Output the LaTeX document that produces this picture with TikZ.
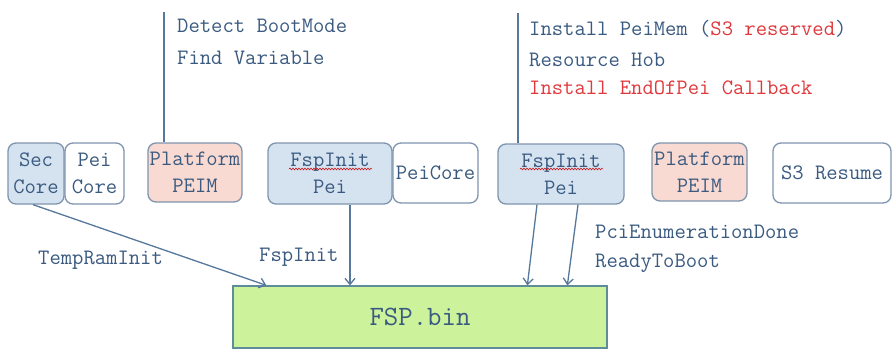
\documentclass[tikz,border=0pt]{standalone}
\usepackage{fontspec}
\usetikzlibrary{arrows.meta,decorations.pathmorphing}
\definecolor{txt}{HTML}{3A5A80}
\definecolor{redtxt}{HTML}{E0383C}
\definecolor{bluefill}{HTML}{D5E3F1}
\definecolor{pinkfill}{HTML}{F9DAD2}
\definecolor{greenfill}{HTML}{CCF39C}
\definecolor{bord}{HTML}{7F95AE}
\definecolor{greenbord}{HTML}{5E8C98}
\definecolor{linecol}{HTML}{56789C}
\newcommand\monofont{\ttfamily\fontsize{22}{27}\selectfont}
\tikzset{
  modbox/.style={draw=bord, line width=1.3pt, rounded corners=8pt, inner sep=0pt,
    align=center, text=txt, font=\monofont},
  bluebox/.style={modbox, fill=bluefill},
  pinkbox/.style={modbox, fill=pinkfill},
  whitebox/.style={modbox, fill=white},
  lbl/.style={anchor=west, inner sep=0pt, text=txt, font=\monofont},
  arr/.style={draw=linecol, line width=1.3pt, -{Straight Barb[length=6pt,width=10pt]}},
  vline/.style={draw=linecol, line width=1.5pt},
  wavy/.style={draw=red!80!black, line width=0.5pt, decorate,
    decoration={snake, amplitude=0.9pt, segment length=3pt}}
}
\begin{document}
\begin{tikzpicture}[x=1pt,y=-1pt]
\useasboundingbox (0,0) rectangle (895,349);
\fill[white] (0,0) rectangle (895,349);

% module boxes
\node[bluebox, minimum width=56pt, minimum height=61pt] (sec) at (36,173.5) {Sec\\Core};
\node[whitebox, minimum width=59pt, minimum height=61pt] (pei) at (94.5,173.5) {Pei\\Core};
\node[pinkbox, minimum width=94pt, minimum height=59pt] (plat1) at (195,172.5) {Platform\\PEIM};
\node[bluebox, minimum width=124pt, minimum height=61pt] (fsp1) at (330,173.5) {FspInit\\Pei};
\node[whitebox, minimum width=85pt, minimum height=60pt] (peicore) at (435.5,173) {PeiCore};
\node[bluebox, minimum width=126pt, minimum height=60pt] (fsp2) at (561,174) {FspInit\\Pei};
\node[pinkbox, minimum width=95pt, minimum height=58pt] (plat2) at (699.5,172) {Platform\\PEIM};
\node[whitebox, minimum width=118pt, minimum height=60pt] (s3) at (832,173) {S3 Resume};

% spell-check underlines
\coordinate (w1a) at (289,169); \coordinate (w1b) at (372,169);
\draw[wavy] (w1a) -- (w1b);
\coordinate (w2a) at (520,169); \coordinate (w2b) at (603,169);
\draw[wavy] (w2a) -- (w2b);

% FSP.bin
\node[draw=greenbord, line width=1.3pt, fill=greenfill, minimum width=374pt, minimum height=62pt,
  inner sep=0pt, text=txt, font=\ttfamily\fontsize{28}{30}\selectfont] (fsp) at (420,317) {FSP.bin};

% top vertical lines
\coordinate (top1) at (164,12);
\draw[vline] (top1) -- (top1 |- plat1.north);
\coordinate (top2) at (518,13);
\draw[vline] (top2) -- (top2 |- fsp2.north);

% top texts
\node[lbl] (t1) at (177,26) {Detect BootMode};
\node[lbl] (t2) at (177,58) {Find Variable};
\node[lbl] (t3) at (529,29) {Install PeiMem {\color{txt}(}{\color{redtxt}S3 reserved}{\color{txt})}};
\node[lbl] (t4) at (529,60) {Resource Hob};
\node[lbl, text=redtxt] (t5) at (529,88) {Install EndOfPei Callback};

% arrows into FSP.bin
\coordinate (s1) at ([xshift=-3pt]sec.south);
\coordinate (e1) at ([xshift=34pt]fsp.north west);
\draw[arr] (s1) -- (e1);
\coordinate (s2) at ([xshift=20pt]fsp1.south);
\coordinate (e2) at (s2 |- fsp.north);
\draw[arr] (s2) -- (e2);
\coordinate (s3) at ([xshift=-24pt]fsp2.south);
\coordinate (e3) at ([xshift=295pt]fsp.north west);
\draw[arr] (s3) -- (e3);
\coordinate (s4) at ([xshift=17pt]fsp2.south);
\coordinate (e4) at ([xshift=335pt]fsp.north west);
\draw[arr] (s4) -- (e4);

% arrow labels
\node[lbl] (l1) at (38,260) {TempRamInit};
\node[lbl] (l2) at (259,257) {FspInit};
\node[lbl] (l3) at (595,232) {PciEnumerationDone};
\node[lbl] (l4) at (595,263) {ReadyToBoot};
\end{tikzpicture}
\end{document}
